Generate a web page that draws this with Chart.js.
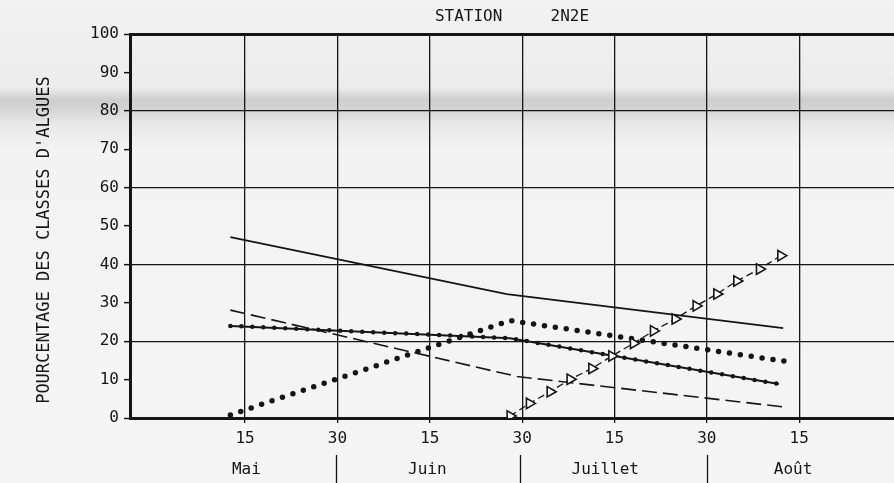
<!DOCTYPE html>
<html lang="fr">
<head>
<meta charset="utf-8">
<title>Station 2N2E</title>
<script src="https://cdn.jsdelivr.net/npm/chart.js@4.4.1/dist/chart.umd.min.js"></script>
<style>
    html, body { margin: 0; padding: 0; }
    body {
        width: 894px; height: 483px; overflow: hidden;
        background: linear-gradient(to bottom, #f2f2f2 0px, #ececec 88px, #cecece 100px, #d3d3d3 108px, #e8e8e8 124px, #f3f3f3 150px, #f5f5f5 483px);
    }
    canvas { display: block; }
</style>
</head>
<body>
<canvas id="grafico" width="894" height="483"></canvas>
<script>
// axe des x : unités de demi-mois (15 = 15 mai, 30 = 30 mai, 45 = 15 juin ...)
const xTicks = [15, 30, 45, 60, 75, 90, 105];
const xTickLabels = ['15', '30', '15', '30', '15', '30', '15'];
const moisNoms = ['Mai', 'Juin', 'Juillet', 'Août'];
const moisPos = [15.2, 44.6, 73.5, 104];
const moisLimites = [29.9, 59.8, 90.05];

const titre = 'STATION     2N2E';
const titreY = "POURCENTAGE DES CLASSES D'ALGUES";

// séries
const traitX = [12.6, 57.5, 102.4];
const traitY = [47.1, 32.3, 23.4];

const tiretsX = [12.6, 59.2, 102.4];
const tiretsY = [28.1, 10.8, 2.9];

const pointsX = [12.6, 58.0, 102.6];
const pointsY = [0.8, 25.4, 14.8];

const traitPointsX = [12.6, 58.0, 101.7];
const traitPointsY = [24.0, 20.8, 8.85];

const trianglesX = [58.05, 61.18, 64.55, 67.79, 71.32, 74.57, 78.08, 81.33, 84.85, 88.26, 91.62, 94.87, 98.55, 102.02];
const trianglesY = [0.5, 3.8, 6.85, 10.1, 12.9, 16.15, 19.45, 22.7, 25.8, 29.2, 32.3, 35.7, 38.8, 42.3];

const encre = '#151515';
const police = '"DejaVu Sans Mono", "Liberation Mono", monospace';

const pts = (xs, ys) => xs.map((x, i) => ({ x, y: ys[i] }));

// pas de marge automatique autour des axes : la zone du graphique va jusqu'au bord droit
const sansMarge = s => { s.paddingLeft = 0; s.paddingRight = 0; };

const tituloEixoY = {
    id: 'tituloEixoY',
    afterDraw(chart) {
        const { ctx, chartArea } = chart;
        ctx.save();
        ctx.translate(45, (chartArea.top + chartArea.bottom) / 2 + 14);
        ctx.rotate(-Math.PI / 2);
        ctx.font = '17px ' + police;
        ctx.fillStyle = encre;
        ctx.textAlign = 'center';
        ctx.textBaseline = 'middle';
        ctx.fillText(titreY, 0, 0);
        ctx.restore();
    }
};

new Chart(document.getElementById('grafico').getContext('2d'), {
    type: 'line',
    data: {
        datasets: [
            {
                data: pts(trianglesX, trianglesY),
                borderColor: encre, borderWidth: 1.3, borderDash: [7, 4],
                pointStyle: 'triangle', rotation: 90, pointRadius: 6,
                pointBackgroundColor: '#fff', pointBorderColor: encre, pointBorderWidth: 1.6
            },
            { data: pts(traitX, traitY), borderColor: encre, borderWidth: 1.8, pointRadius: 0 },
            { data: pts(tiretsX, tiretsY), borderColor: encre, borderWidth: 1.6, borderDash: [15, 6], pointRadius: 0 },
            { data: pts(pointsX, pointsY), borderColor: encre, borderWidth: 5.5, borderDash: [0, 11], borderCapStyle: 'round', pointRadius: 0 },
            { data: pts(traitPointsX, traitPointsY), borderColor: encre, borderWidth: 2, pointRadius: 0 },
            { data: pts(traitPointsX, traitPointsY), borderColor: encre, borderWidth: 4.5, borderDash: [0, 11], borderCapStyle: 'round', pointRadius: 0 }
        ]
    },
    options: {
        responsive: false,
        animation: false,
        layout: { padding: 0, autoPadding: false },
        plugins: {
            legend: { display: false },
            tooltip: { enabled: false },
            title: {
                display: true, text: titre, fullSize: false, color: encre,
                font: { family: police, size: 16, weight: 'normal' },
                padding: { top: 7, bottom: 8 }
            }
        },
        scales: {
            x: {
                type: 'linear', position: 'bottom', min: -3.7, max: 120.4,
                afterBuildTicks: s => { s.ticks = xTicks.map(v => ({ value: v })); },
                afterFit: s => { s.height = 37; sansMarge(s); },
                ticks: {
                    autoSkip: false, maxRotation: 0, padding: 6, color: encre,
                    font: { family: police, size: 16 },
                    callback: (v, i) => xTickLabels[i]
                },
                grid: { color: encre, lineWidth: 1.3, tickLength: 5, tickColor: encre, tickWidth: 1.3 },
                border: { display: true, color: encre, width: 3 }
            },
            mois: {
                type: 'linear', position: 'bottom', weight: 1, min: -3.7, max: 120.4,
                afterBuildTicks: s => {
                    s.ticks = moisPos.map(v => ({ value: v })).concat(moisLimites.map(v => ({ value: v })));
                },
                afterFit: s => { s.height = 28; sansMarge(s); },
                ticks: {
                    autoSkip: false, maxRotation: 0, padding: -23, color: encre,
                    font: { family: police, size: 16 },
                    callback: (v, i) => i < moisNoms.length ? moisNoms[i] : ''
                },
                grid: {
                    drawOnChartArea: false, tickLength: 28, tickWidth: 1.3,
                    color: 'rgba(0,0,0,0)',
                    tickColor: c => moisLimites.includes(c.tick.value) ? encre : 'rgba(0,0,0,0)'
                },
                border: { display: false }
            },
            y: {
                min: 0, max: 100,
                afterFit: s => { s.width = 130; },
                ticks: { stepSize: 10, padding: 5, color: encre, font: { family: police, size: 16 } },
                grid: {
                    color: c => c.tick.value % 20 === 0 ? encre : 'rgba(0,0,0,0)',
                    lineWidth: c => (c.tick.value === 0 || c.tick.value === 100) ? 3 : 1.3,
                    tickColor: encre, tickLength: 6, tickWidth: 1.5
                },
                border: { display: true, color: encre, width: 3 }
            }
        }
    },
    plugins: [tituloEixoY]
});
</script>
</body>
</html>
